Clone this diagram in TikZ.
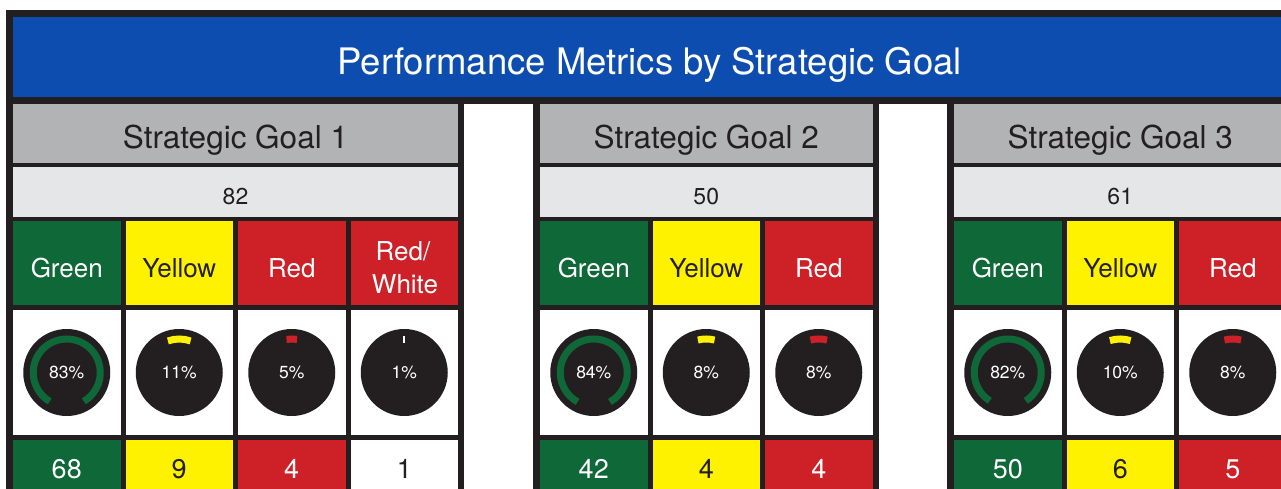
\documentclass[tikz,border=0pt]{standalone}
\usepackage{fontspec}
\setmainfont{TeX Gyre Heros}
\usetikzlibrary{calc}
\definecolor{frameblack}{HTML}{231F20}
\definecolor{bannerblue}{HTML}{0D4DB0}
\definecolor{headgrey}{HTML}{B2B3B5}
\definecolor{countgrey}{HTML}{E5E6E7}
\definecolor{okgreen}{HTML}{0F6837}
\definecolor{warnyellow}{HTML}{FFF200}
\definecolor{badred}{HTML}{CD2027}
\newcommand\metriccol[8]{%
  \node[box, cell#3, minimum width=107.5pt, minimum height=84pt] (#1k) at (#2,221) {};
  \node[lbl, ink#3, kfont] (#1kt) at (#2+53.75,277) {#4};
  \node[box, fill=white, minimum width=107.5pt, minimum height=125pt] (#1g) at (#2,310) {};
  \node[dial] (#1d) at (#2+53.75,372.5) {#5\%};
  \draw[line width=7pt, arc#6] ([shift={({-90-1.8*#5}:33.5)}]#1d.center)
      arc[start angle={-90-1.8*#5}, end angle={-90+1.8*#5}, radius=33.5];
  \node[box, cell#8, minimum width=107.5pt, minimum height=60pt] (#1n) at (#2,440) {};
  \node[lbl, ink#8, nfont] (#1nt) at (#2+53.75,478) {#7};
}
\begin{document}
\begin{tikzpicture}[x=1pt,y=-1pt,
  box/.style={anchor=north west, inner sep=0pt, outer sep=0pt, draw=none},
  lbl/.style={anchor=base, inner sep=0pt, outer sep=0pt},
  titlefont/.style={font=\fontsize{36.5}{42}\selectfont},
  hfont/.style={font=\fontsize{31.5}{37}\selectfont, text=frameblack},
  cfont/.style={font=\fontsize{23}{28}\selectfont, text=frameblack},
  kfont/.style={font=\fontsize{26}{31}\selectfont},
  nfont/.style={font=\fontsize{27}{32}\selectfont},
  dial/.style={circle, fill=frameblack, minimum size=87pt, inner sep=0pt, text=white, font=\fontsize{17.5}{20}\selectfont},
  cellg/.style={fill=okgreen}, inkg/.style={text=white}, arcg/.style={draw=okgreen},
  celly/.style={fill=warnyellow}, inky/.style={text=frameblack}, arcy/.style={draw=warnyellow},
  cellr/.style={fill=badred}, inkr/.style={text=white}, arcr/.style={draw=badred},
  cellw/.style={fill=white}, inkw/.style={text=frameblack}, arcw/.style={draw=white}
]
\clip (0,0) rectangle (1281,489);
\fill[white] (0,0) rectangle (1281,489);
% frame and banner
\fill[frameblack] (6,10) rectangle (1300,104);
\node[box, fill=bannerblue, minimum width=1273.5pt, minimum height=80pt] (banner) at (13,17) {};
\node[lbl, text=white, titlefont] (title) at (649.75,75) {Performance Metrics by Strategic Goal};
% goal blocks
\fill[frameblack] (6,104) rectangle (464,500);
\fill[frameblack] (533,104) rectangle (878.5,500);
\fill[frameblack] (947,104) rectangle (1300,500);
% goal 1
\node[box, fill=headgrey, minimum width=445pt, minimum height=59pt] (h1) at (13,104) {};
\node[lbl, hfont] (h1t) at (235.5,149) {Strategic Goal 1};
\node[box, fill=countgrey, minimum width=445pt, minimum height=50pt] (c1) at (13,167) {};
\node[lbl, cfont] (c1t) at (235.5,204.5) {82};
\metriccol{a1}{13}{g}{Green}{83}{g}{68}{g}
\metriccol{a2}{125.5}{y}{Yellow}{11}{y}{9}{y}
\metriccol{a3}{238}{r}{Red}{5}{r}{4}{r}
\metriccol{a4}{350.5}{r}{}{1}{w}{1}{w}
\node[lbl, inkr, kfont] (a4k1) at (403,260) {Red/};
\node[lbl, inkr, kfont] (a4k2) at (405,293) {White};
% goal 2
\node[box, fill=headgrey, minimum width=332.5pt, minimum height=59pt] (h2) at (540,104) {};
\node[lbl, hfont] (h2t) at (706.25,149) {Strategic Goal 2};
\node[box, fill=countgrey, minimum width=332.5pt, minimum height=50pt] (c2) at (540,167) {};
\node[lbl, cfont] (c2t) at (706.25,204.5) {50};
\metriccol{b1}{540}{g}{Green}{84}{g}{42}{g}
\metriccol{b2}{652.5}{y}{Yellow}{8}{y}{4}{y}
\metriccol{b3}{765}{r}{Red}{8}{r}{4}{r}
% goal 3
\node[box, fill=headgrey, minimum width=332.5pt, minimum height=59pt] (h3) at (954,104) {};
\node[lbl, hfont] (h3t) at (1120.25,149) {Strategic Goal 3};
\node[box, fill=countgrey, minimum width=332.5pt, minimum height=50pt] (c3) at (954,167) {};
\node[lbl, cfont] (c3t) at (1120.25,204.5) {61};
\metriccol{c1}{954}{g}{Green}{82}{g}{50}{g}
\metriccol{c2}{1066.5}{y}{Yellow}{10}{y}{6}{y}
\metriccol{c3}{1179}{r}{Red}{8}{r}{5}{r}
\end{tikzpicture}
\end{document}
